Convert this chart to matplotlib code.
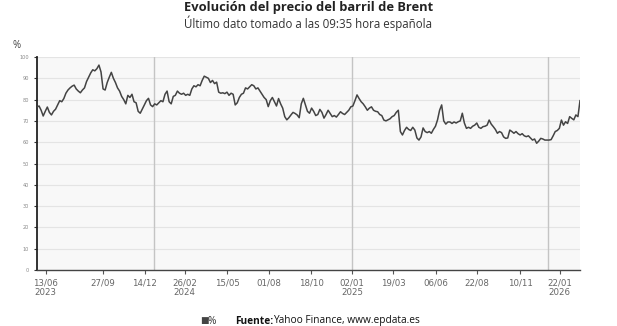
import matplotlib
matplotlib.use("Agg")
import matplotlib.pyplot as plt
import pandas as pd

# ---- data (~8 readings per month) ----
start_date = "2023-05-28"
end_date = "2026-03-01"
brent = [
    76.5, 77.0, 75.0, 72.3, 74.5, 76.5, 74.0, 72.8,   # Jun 2023
    74.5, 75.5, 77.5, 79.5, 79.0, 80.5, 83.0, 84.5,   # Jul
    85.5, 86.3, 86.8, 85.0, 84.0, 83.2, 84.5, 85.5,   # Aug
    88.5, 90.5, 92.5, 94.0, 93.5, 94.5, 96.2, 93.0,   # Sep
    85.0, 84.5, 88.0, 90.5, 92.8, 90.0, 88.0, 85.5,   # Oct
    84.0, 81.5, 80.0, 78.0, 82.0, 81.0, 82.5, 79.0,   # Nov
    78.5, 74.5, 73.6, 75.5, 77.5, 79.5, 80.6, 77.5,   # Dec
    76.7, 78.0, 77.5, 78.5, 79.5, 79.0, 82.5, 84.0,   # Jan 2024
    79.0, 78.0, 81.5, 82.0, 84.0, 83.0, 82.5, 83.0,   # Feb
    82.0, 82.5, 82.0, 85.0, 86.5, 86.0, 87.0, 86.5,   # Mar
    89.0, 91.0, 90.5, 90.0, 88.0, 89.0, 87.5, 88.2,   # Apr
    83.5, 83.0, 83.2, 82.8, 83.5, 82.0, 83.0, 82.5,   # May
    77.5, 78.5, 81.0, 82.5, 83.0, 85.5, 85.0, 86.0,   # Jun
    87.0, 86.5, 85.0, 85.5, 84.0, 82.5, 81.0, 80.0,   # Jul
    76.7, 79.5, 81.0, 79.0, 77.0, 80.5, 78.0, 76.0,   # Aug
    72.0, 70.5, 71.5, 72.8, 74.0, 73.5, 72.8, 71.5,   # Sep
    78.0, 80.6, 77.5, 74.5, 73.6, 76.0, 74.5, 72.5,   # Oct
    73.0, 75.4, 74.0, 71.3, 73.0, 75.0, 73.5, 72.0,   # Nov
    72.5, 71.8, 73.0, 74.3, 73.5, 73.0, 74.0, 75.0,   # Dec
    76.6, 77.0, 79.5, 82.2, 80.5, 79.0, 78.0, 76.6,   # Jan 2025
    75.0, 76.0, 76.6, 75.0, 74.5, 74.3, 73.0, 72.5,   # Feb
    70.4, 70.0, 70.5, 71.0, 72.0, 72.5, 74.0, 75.0,   # Mar
    65.0, 63.4, 65.5, 67.0, 66.0, 65.5, 67.0, 65.7,   # Apr
    62.0, 61.0, 62.5, 66.7, 65.0, 64.5, 65.0, 64.2,   # May
    66.0, 67.5, 70.5, 75.0, 77.5, 70.0, 68.5, 69.5,   # Jun
    69.5, 68.8, 69.5, 69.0, 69.6, 70.0, 73.6, 69.0,   # Jul
    66.5, 67.0, 66.5, 67.5, 68.0, 69.0, 67.0, 66.5,   # Aug
    67.3, 67.5, 68.0, 70.4, 68.5, 67.3, 66.0, 64.2,   # Sep
    65.0, 64.5, 62.5, 61.8, 62.0, 65.7, 65.0, 64.2,   # Oct
    65.0, 64.0, 63.4, 64.0, 63.0, 62.6, 63.0, 62.0,   # Nov
    61.0, 61.5, 59.5, 60.5, 61.8, 61.5, 61.0, 61.0,   # Dec
    61.0, 61.2, 63.0, 65.0, 65.5, 66.5, 70.4, 68.0,   # Jan 2026
    69.6, 68.8, 72.0, 71.2, 70.5, 72.8, 72.0, 79.5,   # Feb
]
tick_dates = ["2023-06-13", "2023-09-27", "2023-12-14", "2024-02-26", "2024-05-15",
              "2024-08-01", "2024-10-18", "2025-01-02", "2025-03-19", "2025-06-06",
              "2025-08-22", "2025-11-10", "2026-01-22"]
tick_labels = ["13/06\n2023", "27/09", "14/12", "26/02\n2024", "15/05", "01/08", "18/10",
               "02/01\n2025", "19/03", "06/06", "22/08", "10/11", "22/01\n2026"]
year_lines = ["2024-01-01", "2025-01-01", "2026-01-01"]
y_ticks = list(range(0, 101, 10))

title = "Evolución del precio del barril de Brent"
subtitle = "Último dato tomado a las 09:35 hora española"

dates = pd.date_range(start_date, end_date, periods=len(brent))

plt.rcParams["font.family"] = ["Open Sans", "DejaVu Sans"]

fig = plt.figure(figsize=(6.17, 3.26), dpi=100)
ax = fig.add_axes([37/617, 1-270/326, (580-37)/617, (270-57)/326])
ax.set_facecolor("#f8f8f8")

for yv in y_ticks:
    ax.axhline(yv, color="#e4e4e4", lw=0.8, zorder=1)
for d in year_lines:
    ax.axvline(pd.Timestamp(d), color="#c4c4c4", lw=1.0, zorder=1)

ax.plot(dates, brent, color="#444444", lw=1.1, zorder=3)

ax.set_xlim(pd.Timestamp(start_date), pd.Timestamp(end_date))
ax.set_ylim(0, 100)
ax.set_yticks(y_ticks)
ax.set_yticklabels([str(v) for v in y_ticks], fontsize=3.6, color="#888888",
                   family="DejaVu Sans")
ax.set_xticks([pd.Timestamp(d) for d in tick_dates])
ax.set_xticklabels(tick_labels, fontsize=6.2, color="#666666", family="DejaVu Sans",
                   linespacing=1.05)
ax.tick_params(axis="y", length=2.5, width=0.8, color="#333333", pad=3)
ax.tick_params(axis="x", length=3, width=0.8, color="#555555", pad=3)

for s in ["top", "right"]:
    ax.spines[s].set_visible(False)
ax.spines["left"].set_color("#222222")
ax.spines["left"].set_linewidth(1.3)
ax.spines["bottom"].set_color("#444444")
ax.spines["bottom"].set_linewidth(1.0)

fig.text(0.5, 1-7/326, title, ha="center", va="center", fontsize=9.3,
         fontweight="bold", color="#222222")
fig.text(0.5, 1-23/326, subtitle, ha="center", va="center", fontsize=8.3,
         color="#333333")
fig.text(17/617, 1-45/326, "%", ha="center", va="center", fontsize=7, color="#444444")

fig.text(200/617, 1-321/326, "■", ha="left", va="center", fontsize=6.5, color="#444444",
         family="DejaVu Sans")
fig.text(208/617, 1-321/326, "%", ha="left", va="center", fontsize=7.3, color="#333333")
fig.text(235/617, 1-321/326, "Fuente:", ha="left", va="center", fontsize=7.3,
         fontweight="bold", color="#111111")
fig.text(273/617, 1-321/326, "Yahoo Finance, www.epdata.es", ha="left", va="center",
         fontsize=7.3, color="#111111")

fig.savefig("out.png", dpi=100)
